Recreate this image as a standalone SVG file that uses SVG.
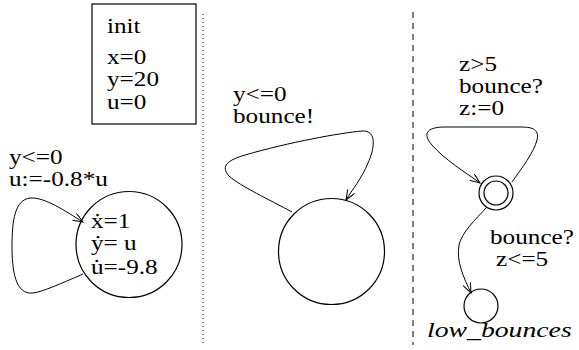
<svg xmlns="http://www.w3.org/2000/svg" width="579" height="350" viewBox="0 0 579 350">
<style>
.t{font-family:'Liberation Serif','Times New Roman',serif;font-size:21px;fill:#000}
.it{font-style:italic}
.shape{fill:none;stroke:#000;stroke-width:1.2}
.edge{fill:none;stroke:#000;stroke-width:1}
</style>
<defs>
<marker id="arr" markerUnits="userSpaceOnUse" markerWidth="12" markerHeight="10" refX="10" refY="4" orient="auto">
<path d="M0,0 L10,4 L0,8" fill="none" stroke="#000" stroke-width="1"/>
</marker>
</defs>
<rect width="579" height="350" fill="#fff"/>
<g id="separators">
<line x1="203" y1="14" x2="203" y2="345" stroke="#000" stroke-width="1" stroke-dasharray="1,3"/>
<line x1="413" y1="12" x2="413" y2="345" stroke="#000" stroke-width="1" stroke-dasharray="6,5"/>
</g>
<g id="init">
<rect class="shape" x="92" y="4" width="104" height="120"/>
<g transform="translate(107,33) scale(1.2,1)"><text class="t" x="0" y="0">init</text></g>
<g transform="translate(107,64) scale(1.2,1)"><text class="t" x="0" y="0">x=0</text><text class="t" x="0" y="22.5">y=20</text><text class="t" x="0" y="45">u=0</text></g>
</g>
<g id="ball">
<circle class="shape" cx="129" cy="244.5" r="53"/>
<g transform="translate(91,228) scale(1.2,1)"><text class="t" x="0" y="0">ẋ=1</text><text class="t" x="0" y="22.5">ẏ= u</text><text class="t" x="0" y="46">u̇=-9.8</text></g>
</g>
<g id="sender">
<circle class="shape" cx="331.5" cy="251.5" r="53"/>
</g>
<g id="counter">
<circle class="shape" cx="496" cy="193" r="17"/>
<circle class="shape" cx="496" cy="193" r="12"/>
</g>
<g id="low_bounces">
<circle class="shape" cx="481" cy="306" r="17"/>
<g transform="translate(427,337) scale(1.32,1)"><text class="t it" x="0" y="0">low_bounces</text></g>
</g>
<g id="connectors">
<path class="edge" marker-end="url(#arr)" d="M83,274 C 60,284 42,292 33,293 C 15,295 12,270 12,246 C 12,220 15,200 30,198 C 45,197 65,211 83,222"/>
<g transform="translate(9,163.5) scale(1.2,1)"><text class="t" x="0" y="0">y&lt;=0</text><text class="t" x="0" y="22.5">u:=-0.8*u</text></g>
<path class="edge" marker-end="url(#arr)" d="M292,212 C 270,200 240,186 229,176 C 220,166 228,160 245,155 C 290,142 340,133 362,131 C 378,130 374,150 368,163 C 362,178 352,190 346,200"/>
<g transform="translate(233,100.5) scale(1.2,1)"><text class="t" x="0" y="0">y&lt;=0</text><text class="t" x="0" y="22.5">bounce!</text></g>
<path class="edge" marker-end="url(#arr)" d="M512,182 C 522,168 534,152 537,140 C 540,128 530,127 520,127 L 445,127 C 425,127 423,135 432,145 C 445,160 465,172 480,183"/>
<g transform="translate(459,71) scale(1.2,1)"><text class="t" x="0" y="0">z&gt;5</text><text class="t" x="0" y="22">bounce?</text><text class="t" x="0" y="44">z:=0</text></g>
<path class="edge" marker-end="url(#arr)" d="M487,207 C 475,220 462,232 459,245 C 456,262 464,278 471,293"/>
<g transform="translate(490,243.5) scale(1.2,1)"><text class="t" x="0" y="0">bounce?</text><text class="t" x="5" y="22.5">z&lt;=5</text></g>
</g>
</svg>
